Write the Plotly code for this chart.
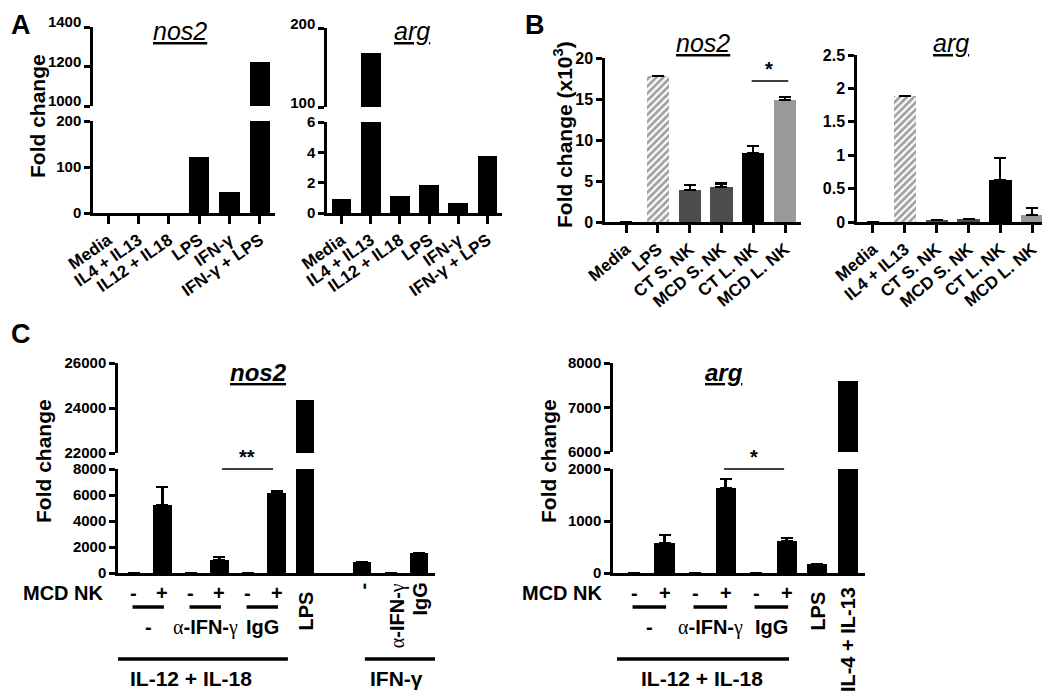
import plotly.graph_objects as go

# The page body keeps its default 8 px margin, so the figure sits 8 px in from
# the window corner; layout positions below are written in window pixels.
OX, OY = 8, 8
W, H = 1042, 690
FONT = "Liberation Sans, Arial, Helvetica, sans-serif"

# ---------------- data ----------------
a_labels = ["Media", "IL4 + IL13", "IL12 + IL18", "LPS", "IFN-γ", "IFN-γ + LPS"]
a_nos2 = [0, 0, 0, 122, 45, 1222]
a_arg = [0.95, 168, 1.15, 1.85, 0.65, 3.78]

b_nos2_labels = ["Media", "LPS", "CT S. NK", "MCD S. NK", "CT L. NK", "MCD L. NK"]
b_nos2 = [0.0, 17.85, 3.9, 4.3, 8.4, 14.9]
b_nos2_err = [0, 0, 0.65, 0.4, 0.9, 0.3]
b_arg_labels = ["Media", "IL4 + IL13", "CT S. NK", "MCD S. NK", "CT L. NK", "MCD L. NK"]
b_arg = [0.0, 1.89, 0.035, 0.045, 0.63, 0.1]
b_arg_err = [0, 0, 0, 0, 0.33, 0.11]
b_colors = ["black", "white", "#4d4d4d", "#4d4d4d", "black", "#999999"]
b_patterns = ["", "/", "", "", "", ""]

c_nos2_pos = [0, 1, 2, 3, 4, 5, 6, 8, 9, 10]
c_nos2 = [0, 5230, 0, 1000, 0, 6150, 24350, 850, 0, 1550]
c_nos2_err = [0, 1380, 0, 230, 0, 150, 0, 0, 0, 0]
c_arg_pos = [0, 1, 2, 3, 4, 5, 6, 7]
c_arg = [0, 577, 0, 1635, 0, 615, 173, 7595]
c_arg_err = [0, 153, 0, 173, 0, 58, 0, 0]

SERIF = "<span style='font-family:Liberation Serif;font-weight:normal'>{}</span>"
ALPHA_IFN_G = SERIF.format("α") + "-IFN-" + SERIF.format("γ")
c_nk_signs = ["-", "+", "-", "+", "-", "+"]
c_treatments = ["-", ALPHA_IFN_G, "IgG"]
c_ifn_labels = ["-", ALPHA_IFN_G, "IgG"]


# ---------------- helpers ----------------
def px(x):
    return (x - OX) / W


def py(y):
    return 1 - (y - OY) / H


def xd(x0, x1):
    return [px(x0), min(1.0, px(x1))]


def yd(ybot, ytop):
    return [py(ybot), py(ytop)]


def tfont(size, bold=True):
    d = dict(family=FONT, size=size, color="black")
    if bold:
        d["weight"] = "bold"
    return d


def yax(domain, anchor, rng, tickvals, ticktext=None, size=15, shift=0):
    if ticktext is None:
        ticktext = [str(v) for v in tickvals]
    return dict(domain=domain, anchor=anchor, range=rng, tickvals=tickvals,
                ticktext=ticktext, automargin=False, ticklabelshift=shift,
                showline=True, linewidth=2.5, linecolor="black", ticks="outside",
                ticklen=6, tickwidth=2.5, tickcolor="black", showgrid=False,
                zeroline=False, tickfont=tfont(size), fixedrange=True)


def xcat(domain, anchor, rng, angle, size):
    return dict(domain=domain, anchor=anchor, range=rng, type="category",
                automargin=False,
                showline=True, linewidth=2.5, linecolor="black", ticks="outside",
                ticklen=8, tickwidth=2.5, tickcolor="black", showgrid=False,
                zeroline=False, tickangle=angle, tickfont=tfont(size), fixedrange=True)


def xhidden(domain, anchor, match):
    return dict(domain=domain, anchor=anchor, matches=match, visible=False,
                automargin=False, showgrid=False, zeroline=False, fixedrange=True)


def xnum(domain, anchor, rng):
    return dict(domain=domain, anchor=anchor, range=rng, showline=True,
                automargin=False,
                linewidth=2.5, linecolor="black", ticks="", showticklabels=False,
                showgrid=False, zeroline=False, fixedrange=True)


fig = go.Figure()


def add_bar(x, y, xa, ya, color="black", width=0.66, err=None, pattern=None, ecolor="black"):
    kw = dict(x=x, y=y, xaxis=xa, yaxis=ya, width=width,
              marker=dict(color=color, line=dict(width=0)), hoverinfo="skip")
    if pattern is not None:
        kw["marker"]["pattern"] = dict(shape=pattern, fgcolor="#555555", size=5, solidity=0.55)
    if err is not None:
        up = [e if e > 0 else None for e in err]
        dn = [0 if e > 0 else None for e in err]
        kw["error_y"] = dict(type="data", symmetric=False, array=up,
                             arrayminus=dn, color=ecolor,
                             thickness=2.2, width=6)
    fig.add_trace(go.Bar(**kw))


# ---- Panel A ----
add_bar(a_labels, a_nos2, "x", "y")
add_bar(a_labels, a_nos2, "x2", "y2")
add_bar(a_labels, a_arg, "x3", "y3", width=0.67)
add_bar(a_labels, a_arg, "x4", "y4", width=0.67)
# ---- Panel B ----
add_bar(b_nos2_labels, b_nos2, "x5", "y5", color=b_colors, width=0.7,
        err=b_nos2_err, pattern=b_patterns)
add_bar(b_arg_labels, b_arg, "x6", "y6", color=b_colors, width=0.7,
        err=b_arg_err, pattern=b_patterns)
# ---- Panel C ----
add_bar(c_nos2_pos, c_nos2, "x7", "y7", width=0.64, err=c_nos2_err)
add_bar(c_nos2_pos, c_nos2, "x8", "y8", width=0.64)
add_bar(c_arg_pos, c_arg, "x9", "y9", width=0.66, err=c_arg_err)
add_bar(c_arg_pos, c_arg, "x10", "y10", width=0.66)

layout = dict(
    width=W, height=H, margin=dict(l=0, r=0, t=0, b=0, autoexpand=False),
    paper_bgcolor="white", plot_bgcolor="white", showlegend=False,
    bargap=0,
    # A nos2
    xaxis=xcat(xd(93, 275), "y", [-0.5, 5.5], -35, 17),
    yaxis=yax(yd(213, 121), "x", [0, 200], [0, 100, 200]),
    xaxis2=xhidden(xd(93, 275), "y2", "x"),
    yaxis2=yax(yd(106, 27), "x2", [1000, 1400], [1000, 1200, 1400], shift=-5),
    # A arg
    xaxis3=xcat(xd(327, 502), "y3", [-0.5, 5.5], -35, 17),
    yaxis3=yax(yd(213, 122), "x3", [0, 6], [0, 2, 4, 6]),
    xaxis4=xhidden(xd(327, 502), "y4", "x3"),
    yaxis4=yax(yd(107, 28), "x4", [100, 200], [100, 200], shift=-4),
    # B
    xaxis5=xcat(xd(605, 801), "y5", [-0.66, 5.5], -40, 17),
    yaxis5=yax(yd(222, 58), "x5", [0, 20], [0, 5, 10, 15, 20], size=16),
    xaxis6=xcat(xd(857, 1045), "y6", [-0.5, 5.4], -40, 17),
    yaxis6=yax(yd(222, 55), "x6", [0, 2.5], [0, 0.5, 1, 1.5, 2, 2.5],
               ["0", "0.5", "1", "1.5", "2", "2.5"], size=16),
    # C nos2
    xaxis7=xnum(xd(118, 435), "y7", [-0.56, 10.56]),
    yaxis7=yax(yd(573, 469), "x7", [0, 8000], [0, 2000, 4000, 6000, 8000]),
    xaxis8=xhidden(xd(118, 435), "y8", "x7"),
    yaxis8=yax(yd(453, 363), "x8", [22000, 26000], [22000, 24000, 26000]),
    # C arg
    xaxis9=xnum(xd(613, 865), "y9", [-0.69, 7.57]),
    yaxis9=yax(yd(573, 469), "x9", [0, 2000], [0, 1000, 2000]),
    xaxis10=xhidden(xd(613, 865), "y10", "x9"),
    yaxis10=yax(yd(452, 363), "x10", [6000, 8000], [6000, 7000, 8000]),
)
fig.update_layout(**layout)

ann = []
shapes = []


def text(x, y, s, size, xref="paper", yref="paper", bold=True, angle=0,
         xanchor="center", yanchor="middle"):
    ann.append(dict(x=x, y=y, xref=xref, yref=yref, text=s, showarrow=False,
                    font=tfont(size, bold), textangle=angle,
                    xanchor=xanchor, yanchor=yanchor))


def hline(x0, x1, y, xref, yref="paper", w=3.5):
    shapes.append(dict(type="line", x0=x0, x1=x1, y0=y, y1=y, xref=xref,
                       yref=yref, line=dict(color="black", width=w)))


# panel letters (kept just inside the figure's edges)
text(px(9), py(8), "A", 27, xanchor="left", yanchor="top")
text(px(535), py(8), "B", 27, yanchor="top")
text(px(9), py(334), "C", 27, xanchor="left")

# titles
text(px(180), py(31), "<i><u>nos2</u></i>", 25, bold=False)
text(px(412), py(31), "<i><u>arg</u></i>", 25, bold=False)
text(px(703), py(43), "<i><u>nos2</u></i>", 25, bold=False)
text(px(951), py(43), "<i><u>arg</u></i>", 25, bold=False)
text(px(258), py(372), "<i><u>nos2</u></i>", 24)
text(px(724), py(372), "<i><u>arg</u></i>", 24)

# y titles
text(px(38), py(116), "Fold change", 21, angle=-90)
text(px(563), py(135), "Fold change (x10<sup>3</sup>)", 21, angle=-90)
text(px(43), py(461), "Fold change", 21, angle=-90)
text(px(548), py(461), "Fold change", 21, angle=-90)

# significance
hline(3.95, 5.1, 17.2, "x5", "y5", w=1.5)
text(4.5, 18.6, "*", 20, xref="x5", yref="y5")
hline(3.09, 4.88, 1.0, "x7", "y7 domain", w=1.5)
text(3.98, 1.12, "**", 20, xref="x7", yref="y7 domain")
hline(2.95, 4.92, 1.0, "x9", "y9 domain", w=1.5)
text(3.93, 1.12, "*", 20, xref="x9", yref="y9 domain")

# ---- C nos2 lower labels ----
text(px(63), py(593), "MCD NK", 20)
for i, s in enumerate(c_nk_signs):
    text(i, py(593), s, 20, xref="x7")
for k in range(3):
    hline(2 * k - 0.05, 2 * k + 1.05, py(607), "x7")
for k, s in enumerate(c_treatments):
    text(2 * k + 0.5, py(627), s, 20, xref="x7")
hline(-0.56, 5.4, py(659), "x7")
text(2.0, py(678), "IL-12 + IL-18", 21, xref="x7")
text(6, py(590), "LPS", 20, xref="x7", angle=-90, yanchor="top")
for k, s in enumerate(c_ifn_labels):
    text(8 + k + (0.25 if k == 1 else 0), py(581), s, 20, xref="x7", angle=-90, yanchor="top")
hline(8.1, 10.56, py(659), "x7")
text(9.2, py(678), "IFN-γ", 21, xref="x7")

# ---- C arg lower labels ----
text(px(562), py(593), "MCD NK", 20)
for i, s in enumerate(c_nk_signs):
    text(i, py(593), s, 20, xref="x9")
for k in range(3):
    hline(2 * k - 0.05, 2 * k + 1.05, py(607), "x9")
for k, s in enumerate(c_treatments):
    text(2 * k + 0.5, py(627), s, 20, xref="x9")
hline(-0.56, 5.08, py(659), "x9")
text(2.24, py(678), "IL-12 + IL-18", 21, xref="x9")
text(6, py(590), "LPS", 20, xref="x9", angle=-90, yanchor="top")
text(7, py(585), "IL-4 + IL-13", 20, xref="x9", angle=-90, yanchor="top")

fig.update_layout(annotations=ann, shapes=shapes)
fig.write_html("out.html")
